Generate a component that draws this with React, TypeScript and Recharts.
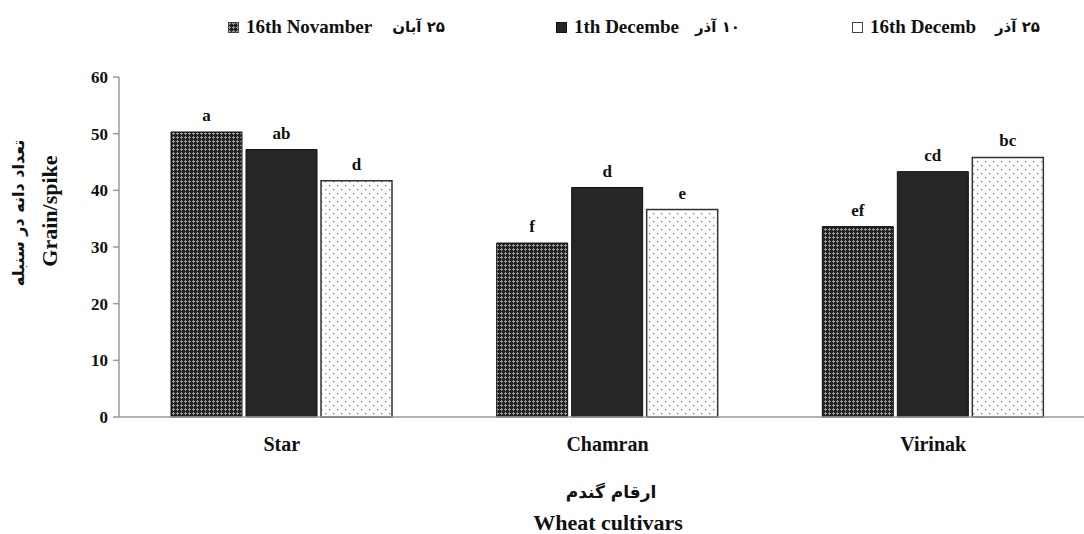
import React from 'react';
import { BarChart, Bar, XAxis, YAxis, LabelList } from 'recharts';

const cultivars = ['Star', 'Chamran', 'Virinak'];
const nov16 = [50.3, 30.7, 33.6];
const dec1 = [47.2, 40.5, 43.3];
const dec16 = [41.7, 36.6, 45.8];
const nov16Letters = ['a', 'f', 'ef'];
const dec1Letters = ['ab', 'd', 'cd'];
const dec16Letters = ['d', 'e', 'bc'];
const yTicks = [0, 10, 20, 30, 40, 50, 60];

const data = cultivars.map((name, i) => ({
  name,
  nov16: nov16[i],
  dec1: dec1[i],
  dec16: dec16[i],
  nov16L: nov16Letters[i],
  dec1L: dec1Letters[i],
  dec16L: dec16Letters[i],
}));

const serif = '"Liberation Serif", "Times New Roman", serif';
const persian = '"DejaVu Sans", sans-serif';

const labelStyle = { fontFamily: serif, fontSize: 17, fontWeight: 700, fill: '#111' };

const LegendItem = ({ left, faRight, fill, stroke, en, fa }: { left: number; faRight: number; fill: string; stroke: string; en: string; fa: string }) => (
  <>
    <div style={{ position: 'absolute', left, top: 16, height: 22, display: 'flex', alignItems: 'center', whiteSpace: 'nowrap' }}>
      <svg width={11} height={11} style={{ marginRight: 7 }}>
        <rect x={0.5} y={0.5} width={10} height={10} fill={fill} stroke={stroke} strokeWidth={1} />
      </svg>
      <span style={{ fontFamily: serif, fontSize: 19, fontWeight: 700, color: '#111' }}>{en}</span>
    </div>
    <div dir="rtl" style={{ position: 'absolute', left: faRight, top: 16, height: 22, display: 'flex', alignItems: 'center', transform: 'translateX(-100%)', whiteSpace: 'nowrap', fontFamily: persian, fontSize: 15, fontWeight: 700, color: '#111' }}>
      {fa}
    </div>
  </>
);

export default function App() {
  return (
    <div style={{ position: 'absolute', left: 0, top: 0, width: 1084, height: 534, overflow: 'hidden', background: '#fff' }}>
      <BarChart
        width={1100}
        height={534}
        data={data}
        margin={{ top: 77, right: 4, left: 0, bottom: 87 }}
        barCategoryGap={52}
        barGap={4}
      >
        <defs>
          <pattern id="hatch" width={4} height={4} patternUnits="userSpaceOnUse">
            <rect width={4} height={4} fill="#222" />
            <rect x={1} y={0} width={1} height={3} fill="#999" />
            <rect x={0} y={1} width={3} height={1} fill="#999" />
          </pattern>
          <pattern id="dots" width={8} height={8} patternUnits="userSpaceOnUse">
            <rect width={8} height={8} fill="#fff" />
            <rect x={1} y={1} width={1.3} height={1.3} fill="#777" />
            <rect x={5} y={5} width={1.3} height={1.3} fill="#777" />
          </pattern>
        </defs>
        <XAxis
          dataKey="name"
          tickLine={false}
          tickMargin={14}
          axisLine={{ stroke: '#9a9a9a', strokeWidth: 1.5 }}
          tick={{ fontFamily: serif, fontSize: 20, fontWeight: 700, fill: '#111' }}
        />
        <YAxis
          width={119}
          domain={[0, 60]}
          ticks={yTicks}
          interval={0}
          tickSize={6}
          tickMargin={5}
          axisLine={{ stroke: '#9a9a9a', strokeWidth: 1.5 }}
          tickLine={{ stroke: '#9a9a9a', strokeWidth: 1.5 }}
          tick={{ fontFamily: serif, fontSize: 17, fontWeight: 700, fill: '#111' }}
        />
        <Bar dataKey="nov16" fill="url(#hatch)" stroke="#111" strokeWidth={1} isAnimationActive={false}>
          <LabelList dataKey="nov16L" position="top" offset={11} style={labelStyle} />
        </Bar>
        <Bar dataKey="dec1" fill="#262626" stroke="#111" strokeWidth={1} isAnimationActive={false}>
          <LabelList dataKey="dec1L" position="top" offset={11} style={labelStyle} />
        </Bar>
        <Bar dataKey="dec16" fill="url(#dots)" stroke="#333" strokeWidth={1.5} isAnimationActive={false}>
          <LabelList dataKey="dec16L" position="top" offset={11} style={labelStyle} />
        </Bar>
      </BarChart>

      <LegendItem left={228} faRight={445} fill="url(#hatch)" stroke="#444" en="16th Novamber" fa="۲۵ آبان" />
      <LegendItem left={556} faRight={740} fill="#262626" stroke="#111" en="1th Decembe" fa="۱۰ آذر" />
      <LegendItem left={852} faRight={1040} fill="#fff" stroke="#444" en="16th Decemb" fa="۲۵ آذر" />

      <div style={{ position: 'absolute', left: 18, top: 213, transform: 'translate(-50%, -50%) rotate(-90deg)', whiteSpace: 'nowrap', fontFamily: persian, fontSize: 16, fontWeight: 700, color: '#111' }} dir="rtl">
        تعداد دانه در سنبله
      </div>
      <div style={{ position: 'absolute', left: 50, top: 211, transform: 'translate(-50%, -50%) rotate(-90deg)', whiteSpace: 'nowrap', fontFamily: serif, fontSize: 22, fontWeight: 700, color: '#111' }}>
        Grain/spike
      </div>
      <div dir="rtl" style={{ position: 'absolute', left: 611, top: 492, transform: 'translate(-50%, -50%)', whiteSpace: 'nowrap', fontFamily: persian, fontSize: 17, fontWeight: 700, color: '#111' }}>
        ارقام گندم
      </div>
      <div style={{ position: 'absolute', left: 608, top: 523, transform: 'translate(-50%, -50%)', whiteSpace: 'nowrap', fontFamily: serif, fontSize: 22, fontWeight: 700, color: '#111' }}>
        Wheat cultivars
      </div>
    </div>
  );
}
